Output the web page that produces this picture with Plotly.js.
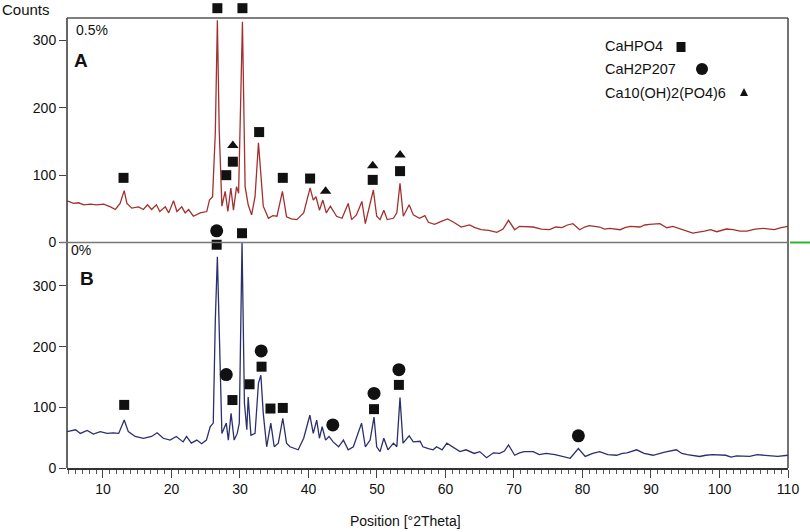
<!DOCTYPE html>
<html>
<head>
<meta charset="utf-8">
<script src="https://cdn.plot.ly/plotly-3.0.1.min.js"></script>
<style>html,body{margin:0;padding:0;background:#fff}#chart{width:810px;height:532px}</style>
</head>
<body>
<div id="chart"></div>
<script>
// ---- data ----
// Panel A (0.5%) diffractogram
const thetaA = [4.75,5.0,5.7,6.45,7.2,8.15,9.1,10.1,11.1,11.8,12.5,13.1,13.5,14.2,15.2,15.9,16.5,17.1,17.8,18.3,19.1,19.6,20.3,20.8,21.5,22.0,22.5,23.2,24.2,25.15,25.55,26.0,26.4,26.7,26.97,27.36,27.84,28.23,28.67,29.05,29.5,29.8,30.36,30.75,31.2,31.7,32.2,32.7,33.4,34.15,34.8,35.4,36.2,36.8,37.5,38.3,39.3,40.24,40.7,41.1,41.6,42.1,42.6,43.2,44.1,44.9,45.8,46.3,47.0,47.8,48.3,48.7,49.47,49.96,50.45,51.0,51.5,52.4,52.9,53.36,53.84,54.7,55.3,56.2,57.0,57.5,58.4,59.3,60.3,61.2,62.3,63.5,64.3,65.2,66.3,67.5,68.4,69.2,70.1,70.8,71.5,72.8,74.0,75.2,76.1,77.0,77.8,78.6,79.6,80.3,81.0,82.5,83.2,84.0,85.5,86.2,87.0,88.4,89.1,89.8,91.3,92.3,93.2,94.5,95.3,96.1,97.8,98.7,99.6,101.0,102.0,103.0,104.0,105.2,106.4,108.0,109.0,110.0];
const countsA = [61,61,58,59,56,57,56,57,53,49,58,77,58,51,53,49,56,49,56,46,53,44,62,46,53,44,49,39,44,46,63,68,163,330,167,54,76,46,81,48,83,73,328,83,56,41,68,148,54,36,40,39,76,38,35,34,44,81,63,68,48,63,44,54,39,36,58,34,41,61,28,44,78,39,34,48,34,36,44,88,39,56,41,36,40,30,27,31,35,30,23,26,22,19,18,15,20,33,19,24,24,23,20,19,23,22,26,28,19,23,25,23,20,21,19,22,24,23,26,27,28,22,24,20,17,14,17,19,16,20,19,17,17,20,21,19,22,24];
// Panel B (0%) diffractogram
const thetaB = [4.75,5.3,6.0,6.7,7.7,8.6,9.6,10.6,11.5,12.3,13.1,13.7,14.7,15.9,17.1,17.9,18.8,19.8,20.7,21.7,22.2,22.9,23.7,24.4,25.1,25.65,26.1,26.4,26.7,27.0,27.36,28.0,28.3,28.7,29.15,29.6,29.9,30.3,30.65,31.0,31.2,31.6,32.2,32.7,33.05,33.4,33.9,34.5,35.0,35.6,36.25,36.8,37.3,38.5,39.3,40.2,40.7,41.2,41.6,42.0,42.5,43.0,43.6,44.4,45.1,45.8,46.55,47.75,48.3,49.0,49.57,49.96,50.45,51.0,51.6,52.4,52.9,53.36,53.8,54.7,55.3,56.3,56.7,57.5,58.2,58.7,59.5,60.2,61.2,62.1,63.0,64.2,65.0,66.0,67.0,67.9,68.6,69.2,70.1,70.8,71.5,72.8,73.7,74.7,76.0,77.2,78.2,79.4,80.4,81.5,82.5,83.7,85.0,85.8,86.5,87.9,89.0,90.3,91.2,92.0,93.7,94.5,95.3,97.1,98.0,99.0,100.9,101.7,102.5,104.4,105.5,106.8,107.7,108.5,110.0];
const countsB = [60,61,63,57,62,56,60,57,58,57,79,60,52,49,52,58,49,46,52,43,52,41,46,40,46,68,74,244,348,216,57,74,46,90,46,57,74,372,107,63,117,54,57,140,153,90,35,74,35,41,82,41,35,30,49,87,57,79,49,68,46,52,43,35,46,30,35,74,35,46,84,35,27,49,30,41,35,116,41,53,43,44,35,32,30,35,30,41,33,27,30,24,27,17,25,24,28,38,21,25,27,27,22,24,22,19,16,32,19,24,27,22,21,24,25,30,24,21,24,26,30,24,22,19,21,22,21,18,20,19,22,21,20,19,21];
// Phase marks
const sqA_x  = [13.0,26.7,30.36,28.0,28.96,32.8,36.25,40.24,49.38,53.37];
const sqA_y  = [96,348,348,100,120,164,96,95,93,106];
const triA_x = [28.96,42.5,49.38,53.37];
const triA_y = [144,76,114,130];
const sqB_x  = [13.1,26.6,30.3,28.9,31.4,33.15,34.45,36.25,49.57,53.2];
const sqB_y  = [104,368,387,112,138,167,98,99,97,137];
const cirB_x = [26.6,28.0,33.1,43.55,49.57,53.2,79.4];
const cirB_y = [391,154,193,71,123,162,53];
const legendNames = ['CaHPO4','CaH2P207','Ca10(OH)2(PO4)6'];
const xTicks = [10,20,30,40,50,60,70,80,90,100,110];
const yTicks = [0,100,200,300];

// ---- layout helpers (pixel -> paper) ----
const L=67, R=22, T=0, B=64, W=810, H=532;
const pw=W-L-R, ph=H-T-B;
const px=(x)=>(x-L)/pw;
const py=(y)=>(H-B-y)/ph;
const splitY = py(242.5), frameTop = py(18);
// pixel scale of each panel (px per count)
const kA = 0.6733, kB = 0.6067;

const red='#a3302d', blue='#2b2f6e', ink='#111';
const traces = [
  {x:thetaA,y:countsA,xaxis:'x',yaxis:'y2',mode:'lines',line:{color:red,width:1.3},hoverinfo:'skip'},
  {x:thetaB,y:countsB,xaxis:'x',yaxis:'y',mode:'lines',line:{color:blue,width:1.3},hoverinfo:'skip'},
  {x:sqA_x,y:sqA_y,xaxis:'x',yaxis:'y2',mode:'markers',cliponaxis:false,marker:{symbol:'square',size:10,color:ink}},
  {x:triA_x,y:triA_y,xaxis:'x',yaxis:'y2',mode:'markers',cliponaxis:false,marker:{symbol:'triangle-up',size:10,color:ink}},
  {x:sqB_x,y:sqB_y,xaxis:'x',yaxis:'y',mode:'markers',cliponaxis:false,marker:{symbol:'square',size:10,color:ink}},
  {x:cirB_x,y:cirB_y,xaxis:'x',yaxis:'y',mode:'markers',cliponaxis:false,marker:{symbol:'circle',size:13,color:ink}}
];

const font={family:'Liberation Sans, Arial, sans-serif',size:14,color:ink};
const ann=(text,x,y,size,opts)=>Object.assign({text:text,x:px(x),y:py(y),xref:'paper',yref:'paper',xanchor:'left',yanchor:'middle',showarrow:false,font:{family:font.family,size:size,color:ink}},opts||{});
const yax=(extra)=>Object.assign({tickvals:yTicks,ticks:'outside',ticklen:7,tickcolor:'#444',showgrid:false,zeroline:false,showline:false,tickfont:{size:14}},extra);

const layout = {
  width:W,height:H,margin:{l:L,r:R,t:T,b:B},
  paper_bgcolor:'#fff',plot_bgcolor:'rgba(0,0,0,0)',showlegend:false,font:font,
  xaxis:{range:[4.75,110],anchor:'y',tickvals:xTicks,ticktext:xTicks.map(String),ticks:'outside',ticklen:8,tickcolor:'#444',tickwidth:1,
         minor:{dtick:1,tick0:0,ticks:'outside',ticklen:4,tickcolor:'#555',tickwidth:1},
         showgrid:false,zeroline:false,showline:true,linecolor:'#333',linewidth:1.5,tickfont:{size:14}},
  yaxis:yax({domain:[0,1],range:[0,(H-B-T)/kB]}),
  yaxis2:yax({domain:[splitY,1],range:[0,(242.5-T)/kA],anchor:'x'}),
  shapes:[
    {type:'line',xref:'paper',yref:'paper',x0:0,x1:0,y0:0,y1:frameTop,line:{color:'#333',width:1.5}},
    {type:'line',xref:'paper',yref:'paper',x0:0,x1:1,y0:frameTop,y1:frameTop,line:{color:'#555',width:1.5}},
    {type:'line',xref:'paper',yref:'paper',x0:1,x1:1,y0:0,y1:frameTop,line:{color:'#444',width:1.5}},
    {type:'line',xref:'paper',yref:'paper',x0:px(60),x1:1,y0:splitY,y1:splitY,line:{color:'#777',width:1.5}},
    {type:'line',xref:'paper',yref:'paper',x0:px(790),x1:px(810),y0:splitY,y1:splitY,line:{color:'#2db52d',width:2}},
    {type:'rect',xref:'paper',yref:'paper',x0:px(676.5),x1:px(685.5),y0:py(52),y1:py(42),fillcolor:ink,line:{width:0}},
    {type:'circle',xref:'paper',yref:'paper',x0:px(696),x1:px(708),y0:py(75),y1:py(63),fillcolor:ink,line:{width:0}},
    {type:'path',xref:'paper',yref:'paper',path:'M '+px(740)+' '+py(96)+' L '+px(748)+' '+py(96)+' L '+px(744)+' '+py(88)+' Z',fillcolor:ink,line:{width:0}}
  ],
  annotations:[
    ann('Counts',0,9,15),
    ann('0.5%',74,30,14),
    ann('<b>A</b>',72,61,19),
    ann('0%',69,250,14),
    ann('<b>B</b>',78,278,19),
    ann(legendNames[0],603,46,14.5),
    ann(legendNames[1],603,69,14.5),
    ann(legendNames[2],603,93,14.5),
    ann('Position [°2Theta]',405,521,14,{xanchor:'center'})
  ]
};
Plotly.newPlot('chart',traces,layout,{staticPlot:true,displayModeBar:false});
</script>
</body>
</html>
